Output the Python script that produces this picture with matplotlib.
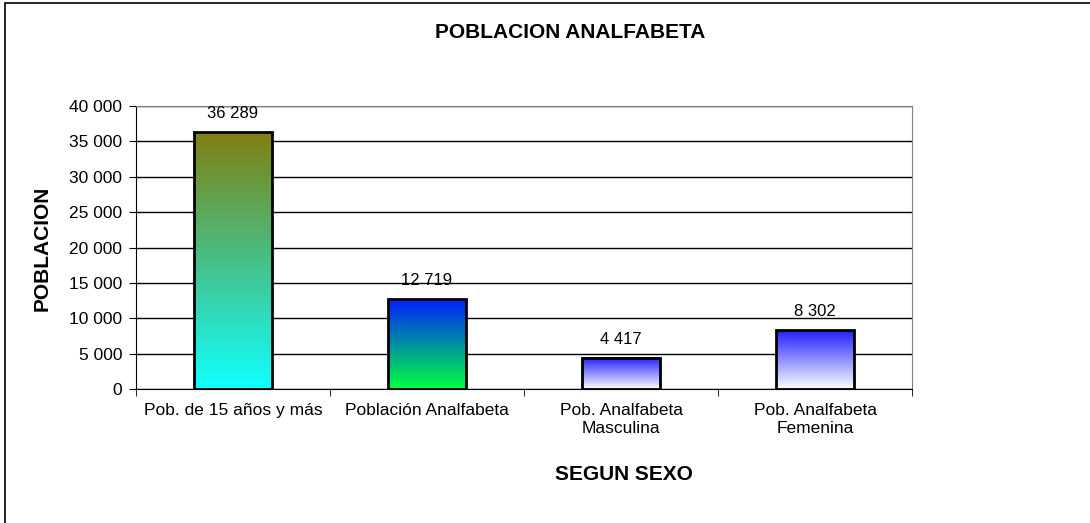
import matplotlib.pyplot as plt
import numpy as np
from matplotlib.colors import LinearSegmentedColormap
from matplotlib.patches import Rectangle

categorias = ['Pob. de 15 años y más', 'Población Analfabeta',
              'Pob. Analfabeta\nMasculina', 'Pob. Analfabeta\nFemenina']
valores = [36289, 12719, 4417, 8302]
# colores del degradado (arriba, abajo) de cada barra
degradados = [('#808010', '#10FFFF'), ('#0020FF', '#00FF40'),
              ('#2020FF', '#FFFFFF'), ('#2020FF', '#FFFFFF')]
yticks = np.arange(0, 40001, 5000)

plt.rcParams['font.family'] = ['Liberation Sans', 'DejaVu Sans']

fig = plt.figure(figsize=(10.9, 5.23), dpi=100)
ax = fig.add_axes([136 / 1090, 1 - 389 / 523, (912 - 136) / 1090, (389 - 106) / 523])

# marco exterior (solo se ven izquierda y arriba)
fig.patches.append(Rectangle((5 / 1090, -0.1), 1.2, 1 - 3 / 523 + 0.1,
                             transform=fig.transFigure, fill=False,
                             edgecolor='black', linewidth=1.2))

x = np.arange(len(categorias))
barras = ax.bar(x, valores, width=0.4, color='none', edgecolor='black',
                linewidth=2, zorder=3)

for b, (c_top, c_bot) in zip(barras, degradados):
    cmap = LinearSegmentedColormap.from_list('g', [c_bot, c_top])
    x0, y0 = b.get_x(), b.get_y()
    grad = np.linspace(0, 1, 256).reshape(-1, 1)
    ax.imshow(grad, cmap=cmap, origin='lower', aspect='auto',
              extent=(x0, x0 + b.get_width(), y0, y0 + b.get_height()), zorder=2)

for xi, v in zip(x, valores):
    ax.annotate(f'{v:,}'.replace(',', ' '), (xi, v), xytext=(0, 8),
                textcoords='offset points', ha='center', va='bottom', fontsize=12)

ax.set_xlim(-0.5, len(categorias) - 0.5)
ax.set_ylim(0, 40000)
ax.set_yticks(yticks)
ax.set_yticklabels([f'{t:,}'.replace(',', ' ') for t in yticks], fontsize=12.5)
ax.set_xticks(x)
ax.set_xticklabels(categorias, fontsize=12.5, linespacing=1.25)
ax.tick_params(axis='x', length=0, pad=10)
ax.set_xticks(np.arange(-0.5, len(categorias)), minor=True)
ax.tick_params(axis='x', which='minor', length=5, color='black')
ax.tick_params(axis='y', length=5, color='black', pad=5)

ax.yaxis.grid(True, color='black', linewidth=1)
ax.set_axisbelow(True)
for s in ['top', 'right']:
    ax.spines[s].set_color('gray')
for s in ['left', 'bottom']:
    ax.spines[s].set_color('black')

fig.text(570 / 1090, 1 - 32 / 523, 'POBLACION ANALFABETA', ha='center', va='center',
         fontsize=15, fontweight='bold')
fig.text(42 / 1090, 1 - 248 / 523, 'POBLACION', ha='center', va='center',
         rotation=90, fontsize=15, fontweight='bold')
fig.text(624 / 1090, 1 - 475 / 523, 'SEGUN SEXO', ha='center', va='center',
         fontsize=15, fontweight='bold')

fig.savefig('out.png', dpi=100)
